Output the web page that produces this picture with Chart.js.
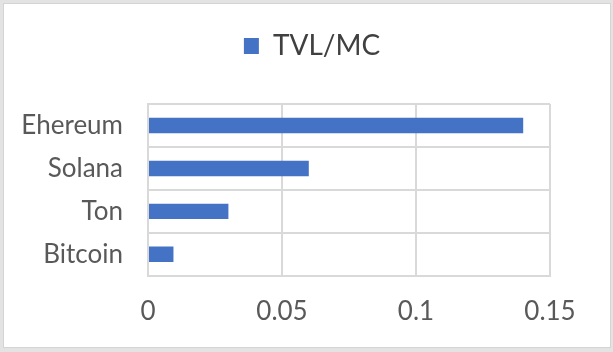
<!DOCTYPE html>
<html>
<head>
<meta charset="utf-8">
<script src="https://cdn.jsdelivr.net/npm/chart.js@4"></script>
<style>
  html, body { margin: 0; padding: 0; background: #e3e3e3; width: 613px; height: 352px; overflow: hidden; }
  #card { position: absolute; left: 3px; top: 3px; width: 606px; height: 343px; background: #fff; border: 1px solid #d4d4d4; }
  canvas { display: block; }
</style>
</head>
<body>
<div id="card"><canvas id="c" width="606" height="343"></canvas></div>
<script>
const categories = ["Ehereum", "Solana", "Ton", "Bitcoin"];
const seriesName = "TVL/MC";
const tvlMc = [0.14, 0.06, 0.03, 0.0095];
const xTicks = [0, 0.05, 0.1, 0.15];

const textColor = "#595959";
const gridColor = "#d9d9d9";
const fontFamily = "Lato, 'Open Sans', sans-serif";

const legendGap = {
  id: "legendGap",
  beforeLayout(chart) {
    const lg = chart.legend;
    if (lg && !lg._gapPatched) {
      const orig = lg.fit;
      lg.fit = function () { orig.call(this); this.height += 34; };
      lg._gapPatched = true;
    }
  },
  afterLayout(chart) {
    const lg = chart.legend;
    if (lg) { lg.left += 30; lg.right += 30; }
  }
};

new Chart(document.getElementById("c"), {
  type: "bar",
  data: {
    labels: categories,
    datasets: [{
      label: seriesName,
      data: tvlMc,
      backgroundColor: "#4472C4",
      borderWidth: 0,
      categoryPercentage: 0.8,
      barPercentage: 0.45
    }]
  },
  plugins: [legendGap],
  options: {
    indexAxis: "y",
    responsive: false,
    animation: false,
    devicePixelRatio: 1,
    layout: { padding: { top: 18, right: 60, bottom: 0, left: 10 } },
    plugins: {
      tooltip: { enabled: false },
      legend: {
        position: "top",
        labels: {
          color: "#404040",
          font: { family: fontFamily, size: 28 },
          boxWidth: 15,
          boxHeight: 16,
          padding: 10
        }
      }
    },
    scales: {
      x: {
        min: 0,
        max: 0.15,
        afterBuildTicks: (axis) => { axis.ticks = xTicks.map(v => ({ value: v })); },
        ticks: {
          color: textColor,
          font: { family: fontFamily, size: 26 },
          padding: 20,
          callback: (v) => String(v)
        },
        grid: { color: gridColor, lineWidth: 2, drawTicks: false },
        border: { color: gridColor, width: 2 }
      },
      y: {
        offset: true,
        afterFit: (axis) => { axis.width = 134; },
        ticks: {
          color: textColor,
          font: { family: fontFamily, size: 26 },
          padding: 25
        },
        grid: { color: gridColor, lineWidth: 2, drawTicks: false, offset: true },
        border: { color: gridColor, width: 2 }
      }
    }
  }
});
</script>
</body>
</html>
